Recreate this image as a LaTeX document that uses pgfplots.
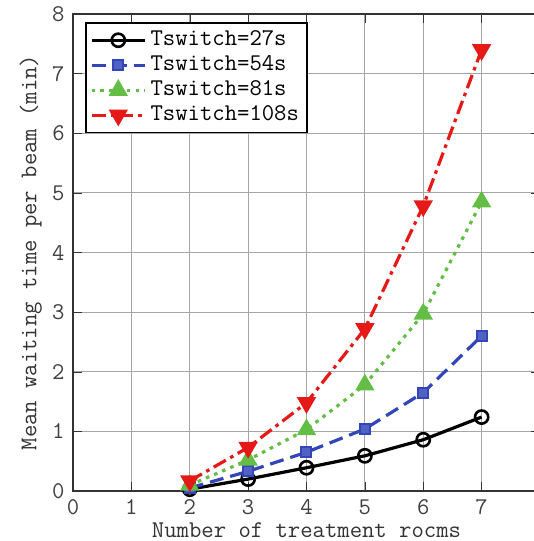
\documentclass[border=0pt]{standalone}
\usepackage{pgfplots}
\pgfplotsset{compat=1.18}
\definecolor{mblue}{RGB}{50,70,185}
\definecolor{mgreen}{RGB}{100,190,70}
\definecolor{mred}{RGB}{230,25,25}
\begin{document}
\ttfamily\fontsize{12}{13}\selectfont
\begin{tikzpicture}
\begin{axis}[
  name=ax,
  scale only axis,
  width=233.5pt, height=238.5pt,
  xmin=0, xmax=8, ymin=0, ymax=8,
  xtick={0,...,8}, ytick={0,...,8},
  grid=major,
  grid style={gray!70, line width=0.6pt},
  axis line style={black!80, line width=0.6pt},
  tick align=inside,
  tick style={black!80},
  /pgf/number format/assume math mode=true,
  ticklabel style={font=\ttfamily\fontsize{12}{13}\selectfont, text=black!75},
  xlabel={Number of treatment rocms},
  ylabel={Mean waiting time per beam (min)},
  label style={font=\ttfamily\fontsize{12}{13}\selectfont, text=black!80},
  xlabel style={yshift=4pt},
  ylabel style={yshift=-3pt},
  legend style={at={(0.026,0.983)}, anchor=north west, draw=black, line width=0.8pt,
    font=\ttfamily\fontsize{12}{12}\selectfont, row sep=-0.8pt, inner sep=2pt},
  legend cell align=left,
  legend image code/.code={\draw[mark repeat=2,mark phase=2] plot coordinates {(0cm,0cm) (0.47cm,0cm) (0.94cm,0cm)};},
  every axis plot/.append style={line width=1.6pt},
]
\addplot[black, solid, mark=o, mark size=3.3pt, mark options={solid, fill=white, line width=1.3pt}]
  coordinates {(2,0.03) (3,0.20) (4,0.39) (5,0.59) (6,0.86) (7,1.24)};
\addlegendentry{Tswitch=27s}
\addplot[mblue, dash pattern=on 7pt off 3.5pt, mark=square*, mark size=2.5pt, mark options={solid, fill=mblue!85, line width=1pt}]
  coordinates {(2,0.05) (3,0.33) (4,0.65) (5,1.04) (6,1.65) (7,2.60)};
\addlegendentry{Tswitch=54s}
\addplot[mgreen, dash pattern=on 1.8pt off 2.6pt, mark=triangle*, mark size=4pt, mark options={solid, fill=mgreen}]
  coordinates {(2,0.10) (3,0.52) (4,1.03) (5,1.78) (6,2.97) (7,4.85)};
\addlegendentry{Tswitch=81s}
\addplot[mred, dash pattern=on 7pt off 2.5pt on 1.8pt off 2.5pt, mark=triangle*, mark size=4pt, mark options={solid, fill=mred, rotate=180}]
  coordinates {(2,0.17) (3,0.73) (4,1.48) (5,2.72) (6,4.78) (7,7.40)};
\addlegendentry{Tswitch=108s}
\end{axis}
\pgfresetboundingbox
\path (ax.south west) ++(-36.5pt,-25pt) rectangle ++(267pt,270.5pt);
\end{tikzpicture}
\end{document}
